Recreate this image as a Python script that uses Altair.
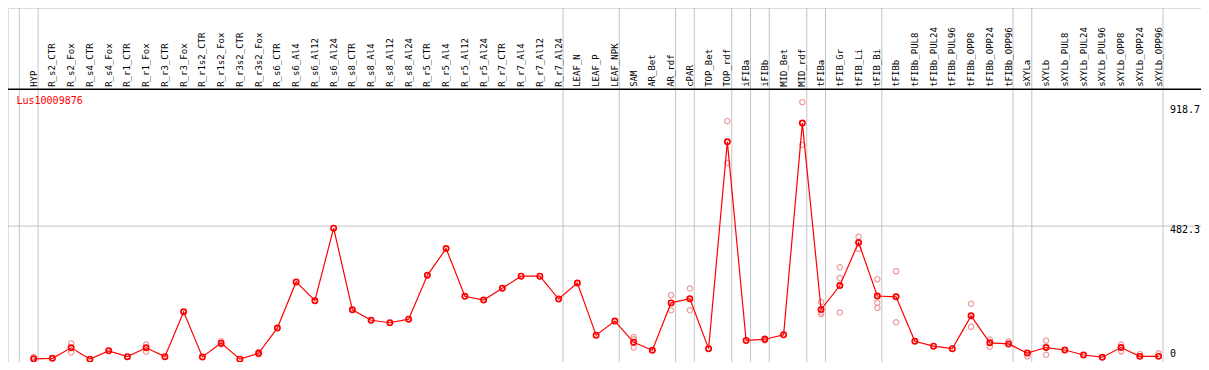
import altair as alt
import pandas as pd

# ---------------- data ----------------
categories = [
    "HYP", "R_s2_CTR", "R_s2_Fox", "R_s4_CTR", "R_s4_Fox", "R_r1_CTR", "R_r1_Fox",
    "R_r3_CTR", "R_r3_Fox", "R_r1s2_CTR", "R_r1s2_Fox", "R_r3s2_CTR", "R_r3s2_Fox",
    "R_s6_CTR", "R_s6_Al4", "R_s6_Al12", "R_s6_Al24", "R_s8_CTR", "R_s8_Al4",
    "R_s8_Al12", "R_s8_Al24", "R_r5_CTR", "R_r5_Al4", "R_r5_Al12", "R_r5_Al24",
    "R_r7_CTR", "R_r7_Al4", "R_r7_Al12", "R_r7_Al24", "LEAF_N", "LEAF_P", "LEAF_NPK",
    "SAM", "AR_Bet", "AR_rdf", "cPAR", "TOP_Bet", "TOP_rdf", "iFIBa", "iFIBb",
    "MID_Bet", "MID_rdf", "tFIBa", "tFIB_Gr", "tFIB_Li", "tFIB_Bi", "tFIBb",
    "tFIBb_PUL8", "tFIBb_PUL24", "tFIBb_PUL96", "tFIBb_OPP8", "tFIBb_OPP24",
    "tFIBb_OPP96", "sXYLa", "sXYLb", "sXYLb_PUL8", "sXYLb_PUL24", "sXYLb_PUL96",
    "sXYLb_OPP8", "sXYLb_OPP24", "sXYLb_OPP96",
]

means = [
    1, 3, 41, 0, 30, 9, 41, 9, 172, 8, 58, 0, 21,
    113, 280, 212, 475, 179, 141, 132, 145, 304, 401, 228, 214,
    257, 301, 301, 218, 276, 87, 138,
    61, 32, 204, 219, 38, 788, 68, 72, 88, 856,
    180, 267, 423, 229, 226, 65, 47, 38, 157, 59, 55,
    22, 42, 33, 15, 7, 42, 10, 10,
]

rep_names = [
    "HYP", "HYP", "R_s2_Fox", "R_s2_Fox", "R_r1_Fox", "R_r1_Fox",
    "R_r1s2_Fox", "R_r1s2_Fox", "R_r3s2_Fox", "R_r3s2_Fox",
    "SAM", "SAM", "SAM", "AR_rdf", "AR_rdf", "cPAR", "cPAR",
    "TOP_rdf", "TOP_rdf", "iFIBb", "iFIBb", "MID_rdf", "MID_rdf",
    "tFIBa", "tFIBa", "tFIBa", "tFIB_Gr", "tFIB_Gr", "tFIB_Gr",
    "tFIB_Li", "tFIB_Li", "tFIB_Bi", "tFIB_Bi", "tFIB_Bi",
    "tFIBb", "tFIBb", "tFIBb_OPP8", "tFIBb_OPP8", "tFIBb_OPP24", "tFIBb_OPP24",
    "tFIBb_OPP96", "sXYLa", "sXYLb", "sXYLb", "sXYLb_OPP8", "sXYLb_OPP8",
    "sXYLb_OPP24", "sXYLb_OPP96",
]
rep_values = [
    8, 0, 57, 24, 53, 27,
    65, 53, 27, 17,
    80, 72, 42, 232, 177, 256, 177,
    863, 711, 75, 68, 932, 777,
    207, 169, 163, 333, 294, 169,
    444, 400, 290, 204, 186,
    319, 134, 201, 117, 71, 45,
    64, 10, 67, 16, 53, 28,
    18, 21,
]

group_starts = ["HYP", "R_s2_CTR", "LEAF_N", "SAM", "cPAR", "TOP_Bet", "iFIBa",
                "iFIBb", "MID_Bet", "tFIBa", "tFIB_Gr", "tFIBb", "sXYLa", "sXYLb"]
tick_values = [0, 482.3, 918.7]
gene_name = "Lus10009876"

# ---------------- tables ----------------
idx_of = {c: i for i, c in enumerate(categories)}
df_mean = pd.DataFrame({"cat": categories, "idx": list(range(len(categories))), "value": means})
df_rep = pd.DataFrame({"cat": rep_names, "idx": [idx_of[n] for n in rep_names], "value": rep_values})
GRID_SHIFT = 0.763
grid_pos = [idx_of[g] - GRID_SHIFT for g in group_starts] + [len(categories) - GRID_SHIFT]
df_vgrid = pd.DataFrame({"idx": grid_pos})
df_hgrid = pd.DataFrame({"value": [tick_values[1]]})
df_ticks_top = pd.DataFrame({"value": tick_values[1:], "label": [f"{v:g}" for v in tick_values[1:]]})
df_ticks_zero = pd.DataFrame({"value": tick_values[:1], "label": ["0"]})

W, H = 1193, 354
xscale = alt.Scale(domain=[-1.3684, 62.2632], zero=False, nice=False)
yscale = alt.Scale(domain=[-10.41, 1273.4], zero=False, nice=False)
X = alt.X("idx:Q", scale=xscale, axis=None)
Y = alt.Y("value:Q", scale=yscale, axis=None)
MONO = "DejaVu Sans Mono"
RED = "#ff0000"
GRID = "#c4c4c4"

vgrid = alt.Chart(df_vgrid).mark_rule(color=GRID, strokeWidth=1).encode(x=X)
hgrid = alt.Chart(df_hgrid).mark_rule(color=GRID, strokeWidth=1).encode(y=Y)
sep = alt.Chart(df_hgrid).mark_rule(color="black", strokeWidth=1.5).encode(
    x=alt.value(0), x2=alt.value(W), y=alt.value(81.3))

header = alt.Chart(df_mean).mark_text(
    angle=270, align="left", baseline="middle", font=MONO, fontSize=9, color="black"
).encode(x=X, y=alt.value(78.8), text="cat:N")

title = alt.Chart(df_hgrid).mark_text(
    align="left", baseline="middle", font=MONO, fontSize=10, color=RED, text=gene_name
).encode(x=alt.value(8.5), y=alt.value(92.5))

ticks_top = alt.Chart(df_ticks_top).mark_text(
    align="left", baseline="middle", font=MONO, fontSize=10, color="black", dy=4
).encode(x=alt.value(1162), y=Y, text="label:N")
ticks_zero = alt.Chart(df_ticks_zero).mark_text(
    align="left", baseline="middle", font=MONO, fontSize=10, color="black", dy=-5
).encode(x=alt.value(1162), y=Y, text="label:N")

reps = alt.Chart(df_rep).mark_point(
    shape="circle", filled=False, size=28, strokeWidth=1.2, color="#f09a9a", opacity=1
).encode(x=X, y=Y)
line = alt.Chart(df_mean).mark_line(color=RED, strokeWidth=1.2).encode(
    x=X, y=Y, order="idx:Q")
pts = alt.Chart(df_mean).mark_point(
    shape="circle", filled=False, size=28, strokeWidth=1.7, color=RED, opacity=1
).encode(x=X, y=Y)

chart = alt.layer(
    vgrid, hgrid, sep, header, title, ticks_top, ticks_zero, reps, line, pts
).properties(
    width=W, height=H, padding=0,
    autosize=alt.AutoSizeParams(type="none"),
).configure_view(stroke="black", strokeWidth=3).configure(background="white")

chart.save("out.html", embed_options={"renderer": "svg", "actions": False})
